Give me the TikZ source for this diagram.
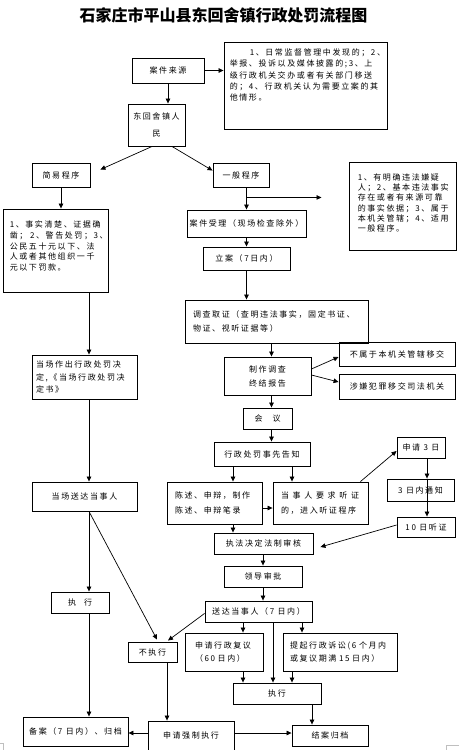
\documentclass[tikz,border=0pt]{standalone}
\usepackage{fontspec}
\newfontfamily\cjk[LetterSpace=20]{Noto Sans CJK SC}
\newfontfamily\cjkt{Noto Sans CJK SC}
\newcommand\fs[1]{\cjk\fontsize{8}{#1}\selectfont}
\usetikzlibrary{arrows.meta,calc}
\tikzset{
  box/.style={draw, line width=0.9pt, inner sep=0pt, font=\fs{12}},
  bx/.style 2 args={minimum width=#1pt, minimum height=#2pt},
  txt/.style={inner sep=0pt, anchor=north west, align=left},
  arr/.style={-{Triangle[length=5pt,width=4.5pt]}, line width=0.7pt},
  ln/.style={line width=0.7pt}
}
\begin{document}
\begin{tikzpicture}[x=1pt,y=-1pt]
\fill[white] (0,0) rectangle (459,750);
\useasboundingbox (0,0) rectangle (459,750);

\node[font=\cjkt\bfseries\fontsize{16}{18}\selectfont] (title) at (223.5,15.5) {石家庄市平山县东回舍镇行政处罚流程图};

% top
\node[box, bx={72}{25}] (src) at (168,70.5) {案件来源};
\node[box, bx={163}{87}] (srcnote) at (305.5,85.5) {};
\node[txt, text width=158pt, font=\fs{11.3}] (srcnotet) at ($(srcnote.north west)+(6,7)$)
 {\hspace*{20pt}1、日常监督管理中发现的；2、\\举报、投诉以及媒体披露的;3、上\\级行政机关交办或者有关部门移送\\的；4、行政机关认为需要立案的其\\他情形。};
\node[box, bx={57}{42}, align=center, font=\fs{17}] (ren) at (156.5,125) {东回舍镇人\\民};

\node[box, bx={58}{24}] (jianyi) at (61,175) {简易程序};
\node[box, bx={56}{24}] (yiban) at (241,175) {一般程序};

\node[box, bx={105}{83}] (jnote) at (55.5,250.5) {};
\node[txt, text width=98pt, font=\fs{10.8}] (jnotet) at ($(jnote.north west)+(7,12)$)
 {1、事实清楚、证据确\\凿； 2、警告处罚；3、\\公民五十元以下、法\\人或者其他组织一千\\元以下罚款。};

\node[box, bx={107}{88}] (ynote) at (402.5,206) {};
\node[txt, text width=96pt, font=\fs{10.2}] (ynotet) at ($(ynote.north west)+(9,12)$)
 {1、有明确违法嫌疑\\人；2、基本违法事实\\存在或者有来源可靠\\的事实依据；3、属于\\本机关管辖；4、适用\\一般程序。};

% general procedure column
\node[box, bx={119}{27}] (shouli) at (246.5,223.5) {案件受理（现场检查除外）};
\node[box, bx={87}{23}] (lian) at (246.5,258.5) {立案（7日内）};
\node[box, bx={183}{43}, align=left, text width=167pt, inner xsep=8pt, font=\fs{14}] (diaocha) at (276.5,321.5)
 {调查取证（查明违法事实，固定书证、\\物证、视听证据等）};
\node[box, bx={87}{38}, align=center, font=\fs{14}] (zhizuo) at (267.5,376) {制作调查\\终结报告};
\node[box, bx={116}{24}] (buzhu) at (397,354) {不属于本机关管辖移交};
\node[box, bx={116}{25}] (shexian) at (397,386.5) {涉嫌犯罪移交司法机关};
\node[box, bx={49}{21}] (huiyi) at (267.5,418.5) {会\hspace{10pt}议};
\node[box, bx={96}{24}] (gaozhi) at (262,454) {行政处罚事先告知};
\node[box, bx={95}{42}, align=left, text width=79pt, inner xsep=8pt, font=\fs{15}] (chenshu) at (214.5,503)
 {陈述、申辩，制作\\陈述、申辩笔录};
\node[box, bx={95}{42}, align=left, text width=79pt, inner xsep=8pt, font=\fs{15}] (tingzheng) at (320.5,503)
 {\makebox[78pt][s]{当\hfil 事\hfil 人\hfil 要\hfil 求\hfil 听\hfil 证}\\的，进入听证程序};
\node[box, bx={48}{21}] (sq3) at (421,447.5) {申请 3 日};
\node[box, bx={67}{22}] (tz3) at (420.5,490) {3 日内通知};
\node[box, bx={58}{20}] (t10) at (426,527) {10 日听证};
\node[box, bx={99}{21}] (fazhi) at (263.5,543.5) {执法决定法制审核};
\node[box, bx={78}{21}] (lingdao) at (263,576.5) {领导审批};
\node[box, bx={107}{21}] (songda) at (258.5,611.5) {送达当事人（7 日内）};
\node[box, bx={78}{38}, align=left, text width=58pt, inner xsep=10pt, font=\fs{13}] (fuyi) at (224,652)
 {申请行政复议\\（60 日内）};
\node[box, bx={114}{38}, align=left, text width=100pt, inner xsep=7pt, font=\fs{13}] (susong) at (340,652)
 {提起行政诉讼(6 个月内\\或复议期满 15 日内）};
\node[box, bx={88}{21}] (zhixing2) at (277,693.5) {执行};
\node[box, bx={76}{21}] (jiean) at (330,735.5) {结案归档};
\node[box, bx={86}{32}] (qiangzhi) at (191,737) {\raisebox{4pt}{申请强制执行}};
\node[box, bx={105}{29}] (beian) at (75.5,731.5) {备案（7 日内）、归档};
\node[box, bx={49}{20}] (bzx) at (152.5,652) {不执行};

% simple procedure column
\node[box, bx={105}{44}, align=left, text width=97pt, inner xsep=4pt, font=\fs{12.5}] (dczc) at (84.5,377)
 {当场作出行政处罚决\\定,《当场行政处罚决\\定书》};
\node[box, bx={105}{29}] (dcsd) at (84.5,496.5) {当场送达当事人};
\node[box, bx={58}{21}] (zx1) at (80,602.5) {执\hspace{8pt}行};

% connectors
\draw[arr] (src.east) -- (src.east -| srcnote.west);
\draw[arr] (src.south) -- (src.south |- ren.north);
\draw[arr] ($(ren.south)+(-4.5,0)$) -- ($(jianyi.north east)+(10,7)$);
\draw[arr] ($(ren.south)+(15.5,0)$) -- ($(yiban.north west)+(0,8)$);
\draw[arr] (jianyi.south) -- (jianyi.south |- jnote.north);
\draw[arr] (shouli.north |- yiban.south) -- (shouli.north);
\coordinate (br) at ($(shouli.north |- yiban.south)+(0,10)$);
\coordinate (brend) at ($(br)+(75,0)$);
\draw[arr] (br) -- (brend);
\draw[arr] (shouli.south) -- (lian.north);
\draw[arr] (lian.south) -- (lian.south |- diaocha.north);
\coordinate (c1) at ($(zhizuo.north)+(4,0)$);
\draw[arr] (c1 |- diaocha.south) -- (c1);
\draw[arr] ($(zhizuo.east)+(0,-7)$) -- ($(buzhu.west)+(0,3)$);
\draw[arr] ($(zhizuo.east)+(0,-1)$) -- ($(shexian.west)+(0,-4.5)$);
\draw[arr] (c1 |- zhizuo.south) -- (c1 |- huiyi.north);
\draw[arr] (c1 |- huiyi.south) -- (c1 |- gaozhi.north);
\coordinate (c2) at ($(chenshu.north)+(18.5,0)$);
\coordinate (c3) at ($(tingzheng.north)+(-28.5,0)$);
\draw[arr] (c2 |- gaozhi.south) -- (c2);
\draw[arr] (c3 |- gaozhi.south) -- (c3);
\draw[arr] ($(chenshu.east)+(0,5)$) -- ($(tingzheng.west)+(0,5)$);
\draw[arr] ($(tingzheng.north east)+(-8,0)$) -- ($(sq3.west)+(0,3.5)$);
\coordinate (c4) at ($(sq3.south)+(6,0)$);
\draw[arr] (c4) -- (c4 |- tz3.north);
\draw[arr] (c4 |- tz3.north) -- (c4 |- t10.north);
\draw[arr] ($(t10.west)+(0,-2)$) -- ($(fazhi.east)+(7,3.5)$);
\draw[arr] (c2 |- chenshu.south) -- (c2 |- fazhi.north);
\draw[arr] (lingdao.north |- fazhi.south) -- (lingdao.north);
\draw[arr] (lingdao.south) -- (lingdao.south |- songda.north);
\draw[arr] ($(songda.south west)+(0,-9)$) -- ($(bzx.north)+(15.5,-1)$);
\coordinate (c5) at ($(fuyi.north)+(19,0)$);
\coordinate (c6) at ($(susong.north)+(-38,0)$);
\coordinate (c7) at ($(zhixing2.north)+(-4,0)$);
\draw[arr] (c5 |- songda.south) -- (c5);
\draw[arr] (c6 |- songda.south) -- (c6);
\draw[arr] (c7 |- songda.south) -- (c7);
\draw[arr] (c5 |- fuyi.south) -- (c5 |- zhixing2.north);
\coordinate (c8) at ($(susong.south)+(-48,0)$);
\draw[arr] (c8) -- (c8 |- zhixing2.north);
\coordinate (c9) at ($(zhixing2.south)+(35,0)$);
\draw[arr] (c9) -- (c9 |- jiean.north);
\coordinate (c10) at ($(bzx.south)+(14.5,0)$);
\draw[arr] (c10) -- (c10 |- qiangzhi.north);
\coordinate (q1) at ($(qiangzhi.west)+(0,-4)$);
\coordinate (q2) at ($(qiangzhi.east)+(0,-4)$);
\draw[arr] (q1) -- (q1 -| beian.east);
\draw[arr] (q2) -- (q2 -| jiean.west);
\coordinate (c11) at ($(jnote.south)+(33.5,0)$);
\draw[arr] (c11) -- (c11 |- dczc.north);
\draw[arr] (c11 |- dczc.south) -- (c11 |- dcsd.north);
\draw[arr] (c11 |- dcsd.south) -- (c11 |- zx1.north);
\draw[arr] (c11 |- zx1.south) -- (c11 |- beian.north);
\draw[arr] (c11 |- dcsd.south) -- ($(bzx.north)+(4.5,-2)$);

% page corner marks
\draw[gray!50, line width=0.5pt] (0,743) -- (3,743) -- (3,750);
\draw[gray!50, line width=0.5pt] (459,745) -- (446,745) -- (446,750);
\end{tikzpicture}
\end{document}
